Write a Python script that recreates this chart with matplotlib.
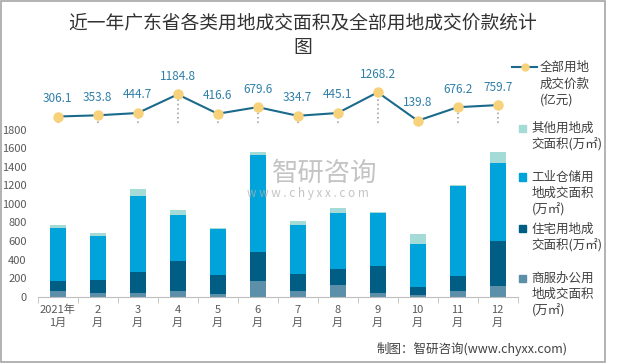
import numpy as np
import matplotlib
matplotlib.use("Agg")
from matplotlib import pyplot as plt
from matplotlib.patches import Rectangle
from matplotlib.lines import Line2D

plt.rcParams['font.family'] = ['Noto Sans CJK SC', 'DejaVu Sans']

# データ
months = ["2021年\n1月", "2\n月", "3\n月", "4\n月", "5\n月", "6\n月",
          "7\n月", "8\n月", "9\n月", "10\n月", "11\n月", "12\n月"]
price = [306.1, 353.8, 444.7, 1184.8, 416.6, 679.6, 334.7, 445.1, 1268.2, 139.8, 676.2, 759.7]
commercial = [58, 40, 40, 61, 29, 169, 58, 126, 36, 15, 65, 118]
residential = [111, 140, 223, 323, 205, 312, 183, 172, 295, 86, 155, 482]
industrial = [574, 470, 818, 493, 495, 1045, 528, 607, 567, 463, 976, 843]
other = [26, 36, 76, 53, 8, 29, 49, 54, 14, 111, 10, 112]

W, H = 620, 364
c_com = "#5C8FA8"
c_res = "#005E85"
c_ind = "#00A3DA"
c_oth = "#A5DBD7"
c_line = "#1B6A8C"
c_mark = "#F7D27B"
c_lab = "#2F7FA8"
c_txt = "#404040"

fig = plt.figure(figsize=(W / 100, H / 100), dpi=100)

# 軸の位置（ピクセルから換算）
x0, x1 = 37.7, 517.7
y_zero, y_top = 296.7, 60
ax = fig.add_axes([x0 / W, 1 - y_zero / H, (x1 - x0) / W, (y_zero - y_top) / H])

x = np.arange(len(months))
b1 = np.array(commercial)
b2 = b1 + np.array(residential)
b3 = b2 + np.array(industrial)
ax.bar(x, commercial, width=0.4, color=c_com, zorder=2)
ax.bar(x, residential, width=0.4, bottom=b1, color=c_res, zorder=2)
ax.bar(x, industrial, width=0.4, bottom=b2, color=c_ind, zorder=2)
ax.bar(x, other, width=0.4, bottom=b3, color=c_oth, zorder=2)

px_per_unit = (y_zero - 129.6) / 1800
ax.set_ylim(0, (y_zero - y_top) / px_per_unit)
ax.set_yticks(np.arange(0, 1801, 200))
ax.set_xlim(-0.5, len(months) - 0.5)
ax.set_xticks(x)
ax.set_xticklabels(months, fontsize=8, color="#595959", linespacing=1.35)
ax.set_xticks(np.arange(-0.5, len(months), 1), minor=True)
ax.tick_params(axis="x", which="major", length=0, pad=6)
ax.tick_params(axis="x", which="minor", length=4, color="#BFBFBF", direction="out")
ax.tick_params(axis="y", length=0, labelsize=8, labelcolor="#595959", pad=8)
for s in ["top", "right", "left"]:
    ax.spines[s].set_visible(False)
ax.spines["bottom"].set_color("#BFBFBF")

# 価格の折れ線（第2軸）
ax2 = ax.twinx()
k = 0.02517  # px per 亿元
ax2.set_ylim(139.8 - (y_zero - 120.7) / k, 139.8 + (120.7 - y_top) / k)
ax2.axis("off")
ax2.vlines(x, 50, price, colors="#A6A6A6", linestyles=":", linewidth=1.2, zorder=1)
ax2.plot(x, price, color=c_line, lw=1.5, marker="o", ms=6.5,
         mfc=c_mark, mec=c_mark, zorder=3)
for xi, v in zip(x, price):
    ax2.annotate(f"{v:.1f}", (xi, v), xytext=(0, 13), textcoords="offset points",
                 ha="center", va="center", fontsize=8.5, color=c_lab)

def fx(px):
    return px / W

def fy(py):
    return 1 - py / H

# タイトル
fig.text(fx(303), fy(23), "近一年广东省各类用地成交面积及全部用地成交价款统计",
         ha="center", va="center", fontsize=13.5, color="#333333")
fig.text(fx(303), fy(48), "图", ha="center", va="center", fontsize=13.5, color="#333333")

# 凡例（手作り）
fig.lines.append(Line2D([fx(512), fx(537)], [fy(67), fy(67)], transform=fig.transFigure,
                        color=c_line, lw=1.5))
fig.lines.append(Line2D([fx(524.5)], [fy(67)], transform=fig.transFigure, marker="o",
                        ms=5, mfc=c_mark, mec=c_mark))
for t, yy in zip(["全部用地", "成交价款", "(亿元)"], [67, 84, 100]):
    fig.text(fx(540), fy(yy), t, ha="left", va="center", fontsize=9, color=c_txt)

legend_items = [
    (c_oth, 128, ["其他用地成", "交面积(万㎡)"]),
    (c_ind, 177, ["工业仓储用", "地成交面积", "(万㎡)"]),
    (c_res, 229, ["住宅用地成", "交面积(万㎡)"]),
    (c_com, 278, ["商服办公用", "地成交面积", "(万㎡)"]),
]
for col, yy, lines in legend_items:
    fig.patches.append(Rectangle((fx(519), fy(yy + 3.5)), 7 / W, 7 / H,
                                 transform=fig.transFigure, color=col))
    for i, t in enumerate(lines):
        fig.text(fx(531.7), fy(yy + 16.5 * i), t, ha="left", va="center",
                 fontsize=9, color=c_txt)

# 透かし
fig.text(fx(325), fy(173), "智研咨询", ha="center", va="center", fontsize=19,
         color="#B0B0B0", alpha=0.75, zorder=10)
fig.text(fx(308), fy(194), "w w w . c h y x x . c o m", ha="center", va="center",
         fontsize=8.5, color="#B0B0B0", alpha=0.75, zorder=10)

# 出典
fig.text(fx(568), fy(349), "制图：智研咨询(www.chyxx.com)", ha="right", va="center",
         fontsize=9, color=c_txt)

# 外枠
fig.patches.append(Rectangle((fx(1), fy(362)), 604 / W, 361 / H, transform=fig.transFigure,
                             fill=False, ec="#A6A6A6", lw=1.2))

fig.savefig("out.png", dpi=100)
